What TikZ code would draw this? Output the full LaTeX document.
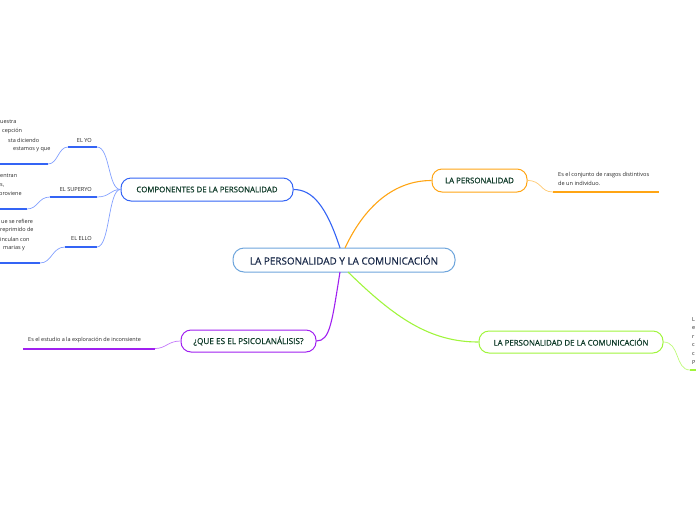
\documentclass[tikz,border=0pt]{standalone}
\usepackage{fontspec}
\setmainfont{Open Sans}
\newfontfamily\semifont{Open Sans}[FakeBold=0.6]
\definecolor{navy}{RGB}{24,40,72}
\definecolor{dgreen}{RGB}{14,58,40}
\definecolor{cblue}{RGB}{110,165,220}
\definecolor{bblue}{RGB}{52,100,245}
\definecolor{lblue}{RGB}{130,160,255}
\definecolor{orng}{RGB}{255,165,20}
\definecolor{lorng}{RGB}{255,200,110}
\definecolor{grn}{RGB}{160,245,60}
\definecolor{lgrn}{RGB}{190,250,120}
\definecolor{purp}{RGB}{160,32,240}
\definecolor{lpurp}{RGB}{195,120,250}
\definecolor{txt}{RGB}{40,40,40}
\begin{document}
\begin{tikzpicture}[x=1pt,y=-1pt,
  mainbox/.style={draw=cblue,line width=1pt,rounded corners=11pt,fill=white,text=navy,
    minimum width=222pt,minimum height=24pt,inner sep=0pt,font=\semifont\fontsize{9.9}{11}\selectfont},
  subbox/.style={line width=1pt,rounded corners=10pt,fill=white,text=dgreen,
    minimum height=23pt,inner sep=0pt,font=\semifont\fontsize{7.85}{9}\selectfont},
  lbl/.style={text=txt,inner sep=0pt,font=\fontsize{5.6}{7}\selectfont},
  small/.style={text=txt,inner sep=0pt,font=\fontsize{5.5}{7}\selectfont},
  conn/.style={line width=1.1pt},
  thin/.style={line width=0.7pt},
  uline/.style={line width=2pt}]
\useasboundingbox (0,0) rectangle (696,520);

% main nodes
\node[mainbox] (c) at (344,260) {LA PERSONALIDAD Y LA COMUNICACIÓN};
\node[subbox,draw=bblue,minimum width=172pt] (comp) at (207,189.5) {COMPONENTES DE LA PERSONALIDAD};
\node[subbox,draw=orng,minimum width=95pt] (pers) at (479.5,180.5) {LA PERSONALIDAD};
\node[subbox,draw=grn,minimum width=184pt,minimum height=22pt] (comm) at (571,342) {LA PERSONALIDAD DE LA COMUNICACIÓN};
\node[subbox,draw=purp,minimum width=135pt,minimum height=22pt,font=\semifont\fontsize{8.2}{9}\selectfont] (psi) at (248.5,341) {¿QUE ES EL PSICOLANÁLISIS?};

% main connectors
\coordinate (cb) at (340,248);
\coordinate (co) at (345,248);
\coordinate (cp) at (340,272);
\coordinate (cg) at (348,272);
\draw[conn,bblue] (cb) .. controls (326,205) and (312,189.5) .. (comp.east);
\draw[conn,orng] (co) .. controls (365,205) and (395,180.5) .. (pers.west);
\draw[conn,purp] (cp) .. controls (332,322) and (330,341) .. (psi.east);
\draw[conn,grn] (cg) .. controls (395,318) and (430,342) .. (comm.west);

% components children
\coordinate (yoR) at (97,147); \coordinate (yoL) at (68,147);
\coordinate (suR) at (97,197); \coordinate (suL) at (50,197);
\coordinate (elR) at (97,247); \coordinate (elL) at (65,247);
\draw[uline,bblue] (yoL) -- (yoR);
\draw[uline,bblue] (suL) -- (suR);
\draw[uline,bblue] (elL) -- (elR);
\node[lbl,anchor=east] (tyo) at (92,140) {EL YO};
\node[lbl,anchor=east] (tsu) at (92,189.5) {EL SUPERYO};
\node[lbl,anchor=east] (tel) at (92,238.5) {EL ELLO};
\draw[thin,lblue] (comp.west) .. controls (108,189.5) and (110,147) .. (yoR);
\draw[thin,lblue] (comp.west) .. controls (110,189.5) and (110,197) .. (suR);
\draw[thin,lblue] (comp.west) .. controls (108,189.5) and (110,247) .. (elR);

% description underlines
\coordinate (d1R) at (48,164); \coordinate (d1L) at (-2,164);
\coordinate (d2R) at (27,209); \coordinate (d2L) at (-2,209);
\coordinate (d3R) at (40,263); \coordinate (d3L) at (-2,263);
\draw[uline,bblue] (d1L) -- (d1R);
\draw[uline,bblue] (d2L) -- (d2R);
\draw[uline,bblue] (d3L) -- (d3R);
\draw[thin,lblue] (yoL) .. controls (58,147) and (58,164) .. (d1R);
\draw[thin,lblue] (suL) .. controls (38,197) and (38,209) .. (d2R);
\draw[thin,lblue] (elL) .. controls (52,247) and (52,263) .. (d3R);

\node[small,anchor=west] (a1) at (0,122) {uestra};
\node[small,anchor=west] (a2) at (2,131) {cepción};
\node[small,anchor=west] (a3) at (8,140) {sta diciendo};
\node[small,anchor=west] (a4) at (13,149) {estamos y que};
\node[small,anchor=west] (b1) at (0,176) {entran};
\node[small,anchor=west] (b2) at (0,185) {s,};
\node[small,anchor=west] (b3) at (-1,194) {proviene};
\node[small,anchor=west] (e1) at (1,221) {ue se refiere};
\node[small,anchor=west] (e2) at (0,230) {reprimido de};
\node[small,anchor=west] (e3) at (0,239) {inculan con};
\node[small,anchor=west] (e4) at (3,248) {marias y};

% orange child
\coordinate (oL) at (553,192); \coordinate (oR) at (659,192);
\draw[uline,orng] (oL) -- (oR);
\draw[thin,lorng] (pers.east) .. controls (542,180.5) and (540,192) .. (oL);
\node[small,anchor=north west,align=left,font=\fontsize{5.6}{9}\selectfont] (otx) at (558,172) {Es el conjunto de rasgos distintivos\\de un individuo.};

% green child
\coordinate (gL) at (690,370); \coordinate (gR) at (698,370);
\draw[uline,grn] (gL) -- (gR);
\draw[thin,lgrn] (comm.east) .. controls (680,342) and (675,370) .. (gL);
\node[small,anchor=west] (g1) at (692,320) {L};
\node[small,anchor=west] (g2) at (692,328.5) {e};
\node[small,anchor=west] (g3) at (692,337) {r};
\node[small,anchor=west] (g4) at (692,345.5) {c};
\node[small,anchor=west] (g5) at (692,354) {c};
\node[small,anchor=west] (g6) at (692,362.5) {P};

% purple child
\coordinate (pL) at (23,348.5); \coordinate (pR) at (155,348.5);
\draw[uline,purp] (pL) -- (pR);
\draw[thin,lpurp] (psi.west) .. controls (168,341) and (166,348.5) .. (pR);
\node[small,anchor=west] (ptx) at (28,340.5) {Es el estudio a la exploración de inconsiente};
\end{tikzpicture}
\end{document}
